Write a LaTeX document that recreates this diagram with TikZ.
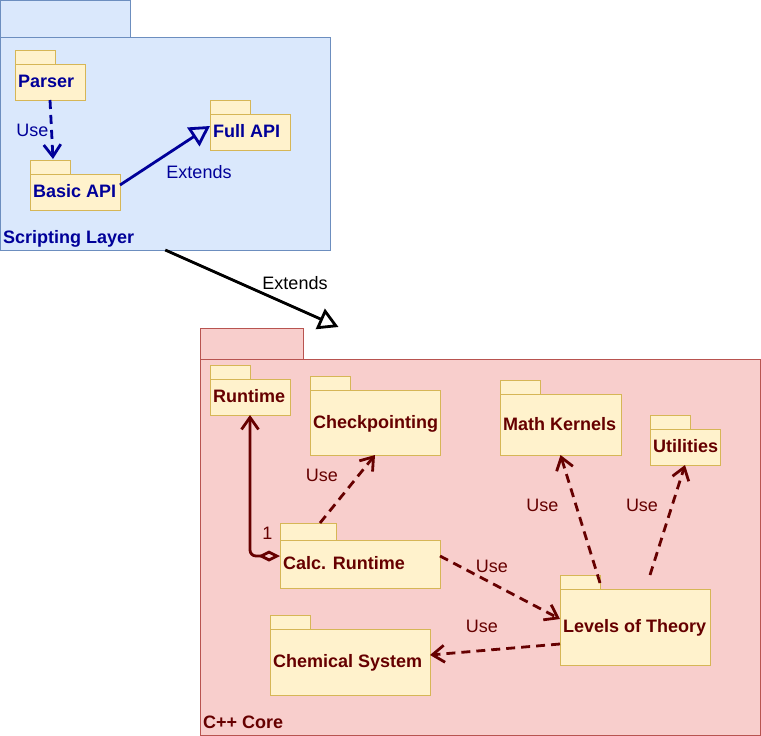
\documentclass[tikz,border=0pt]{standalone}
\usepackage{fontspec}
\setmainfont{Liberation Sans}
\usetikzlibrary{arrows.meta,calc}
\definecolor{blueFill}{HTML}{DAE8FC}
\definecolor{blueLine}{HTML}{6C8EBF}
\definecolor{redFill}{HTML}{F8CECC}
\definecolor{redLine}{HTML}{B85450}
\definecolor{pkgFill}{HTML}{FFF2CC}
\definecolor{pkgLine}{HTML}{D6B656}
\definecolor{navy}{HTML}{000099}
\definecolor{maroon}{HTML}{660000}
\tikzset{
  body/.style={draw, anchor=north west, inner sep=0pt, outer sep=0pt, line width=1pt},
  pkg/.style={body, fill=pkgFill, draw=pkgLine},
  tabbox/.style={draw=pkgLine, fill=pkgFill, line width=1pt},
  ptext/.style={anchor=base west, inner sep=0pt, font=\bfseries\fontsize{18}{21}\selectfont},
  ltext/.style={inner sep=0pt, font=\fontsize{18}{21}\selectfont},
  usearrow/.style={line width=2.8pt, dash pattern=on 9pt off 6pt, -{Straight Barb[length=12pt,width=17pt]}},
  extarrow/.style={line width=2.8pt, -{Triangle[open,length=20pt,width=22pt]}},
}
\newcommand\pkgbox[8]{%
  \draw[tabbox] (#2,#3) rectangle (#2+#7,#4);
  \node[pkg, minimum width=#5pt, minimum height=#6pt] (#1) at (#2,#4) {};
  \node[ptext] (#1T) at ($(#1.west)+(3,5.5)$) {#8};
}
\begin{document}
\begin{tikzpicture}[x=1pt,y=-1pt]
\useasboundingbox (0,0) rectangle (761,736);
% ---------- Scripting layer ----------
\draw[draw=blueLine, fill=blueFill, line width=1pt] (0.5,0.5) rectangle (130,37);
\node[body, draw=blueLine, fill=blueFill, minimum width=329.5pt, minimum height=213pt] (script) at (0.5,37) {};
\begin{scope}[text=navy]
\node[ptext] (scriptT) at ($(script.south west)+(2.5,-6.7)$) {Scripting Layer};
\pkgbox{parser}{15}{50}{64}{70}{36}{40}{Parser}
\pkgbox{basic}{30}{160}{174}{90}{36}{40}{Basic API}
\pkgbox{full}{210}{100}{114}{80}{36}{40}{Full API}
\draw[usearrow, draw=navy] (parser.south) -- ($(basic.north west)+(23,-15)$);
\node[ltext] (useA) at (32.5,130) {Use};
\draw[extarrow, draw=navy] ($(basic.north east)+(0,11)$) -- ($(full.north west)+(0,12)$);
\node[ltext] (extA) at (199,172) {Extends};
\end{scope}
% ---------- C++ Core ----------
\draw[draw=redLine, fill=redFill, line width=1pt] (200.5,328) rectangle (303,359);
\node[body, draw=redLine, fill=redFill, minimum width=560pt, minimum height=376pt] (core) at (200.5,359) {};
\draw[extarrow, draw=black] (script.south) -- ($(core.north west)+(138,-32)$);
\node[ltext] (extB) at (295,283) {Extends};
\begin{scope}[text=maroon]
\node[ptext] (coreT) at ($(core.south west)+(2.5,-6.5)$) {C++ Core};
\pkgbox{runtime}{210}{365}{379}{80}{36}{40}{Runtime}
\pkgbox{checkp}{310}{376}{390}{130}{65}{40}{Checkpointing}
\pkgbox{math}{500}{380}{394}{121}{61}{40}{Math Kernels}
\pkgbox{util}{650}{415}{429}{70}{36}{40}{Utilities}
\pkgbox{calc}{280}{523}{540}{160}{48}{56}{Calc. Runtime}
\pkgbox{levels}{560}{575}{589}{150}{76}{40}{Levels of Theory}
\pkgbox{chem}{270}{615}{629}{160}{66}{40}{Chemical System}
\draw[maroon, line width=2.8pt, rounded corners=6pt,
  {Diamond[open,length=22pt,width=11pt]}-{Straight Barb[length=12pt,width=17pt]}]
  ($(calc.north west)+(0,16)$) -| (runtime.south);
\node[ltext] (one) at (267.5,533) {1};
\draw[usearrow, draw=maroon] ($(calc.north west)+(40,-17)$) -- (checkp.south);
\node[ltext] (useB) at (322,475) {Use};
\draw[usearrow, draw=maroon] ($(calc.north east)+(0,16)$) -- ($(levels.north west)+(0,30)$);
\node[ltext] (useC) at (492,566) {Use};
\draw[usearrow, draw=maroon] ($(levels.north west)+(40,-6)$) -- (math.south);
\node[ltext] (useD) at (542.5,505) {Use};
\draw[usearrow, draw=maroon] ($(levels.north west)+(90,-14)$) -- (util.south);
\node[ltext] (useE) at (642,505) {Use};
\draw[usearrow, draw=maroon] ($(levels.north west)+(0,55)$) -- ($(chem.north east)+(0,26)$);
\node[ltext] (useF) at (482,626) {Use};
\end{scope}
\end{tikzpicture}
\end{document}
